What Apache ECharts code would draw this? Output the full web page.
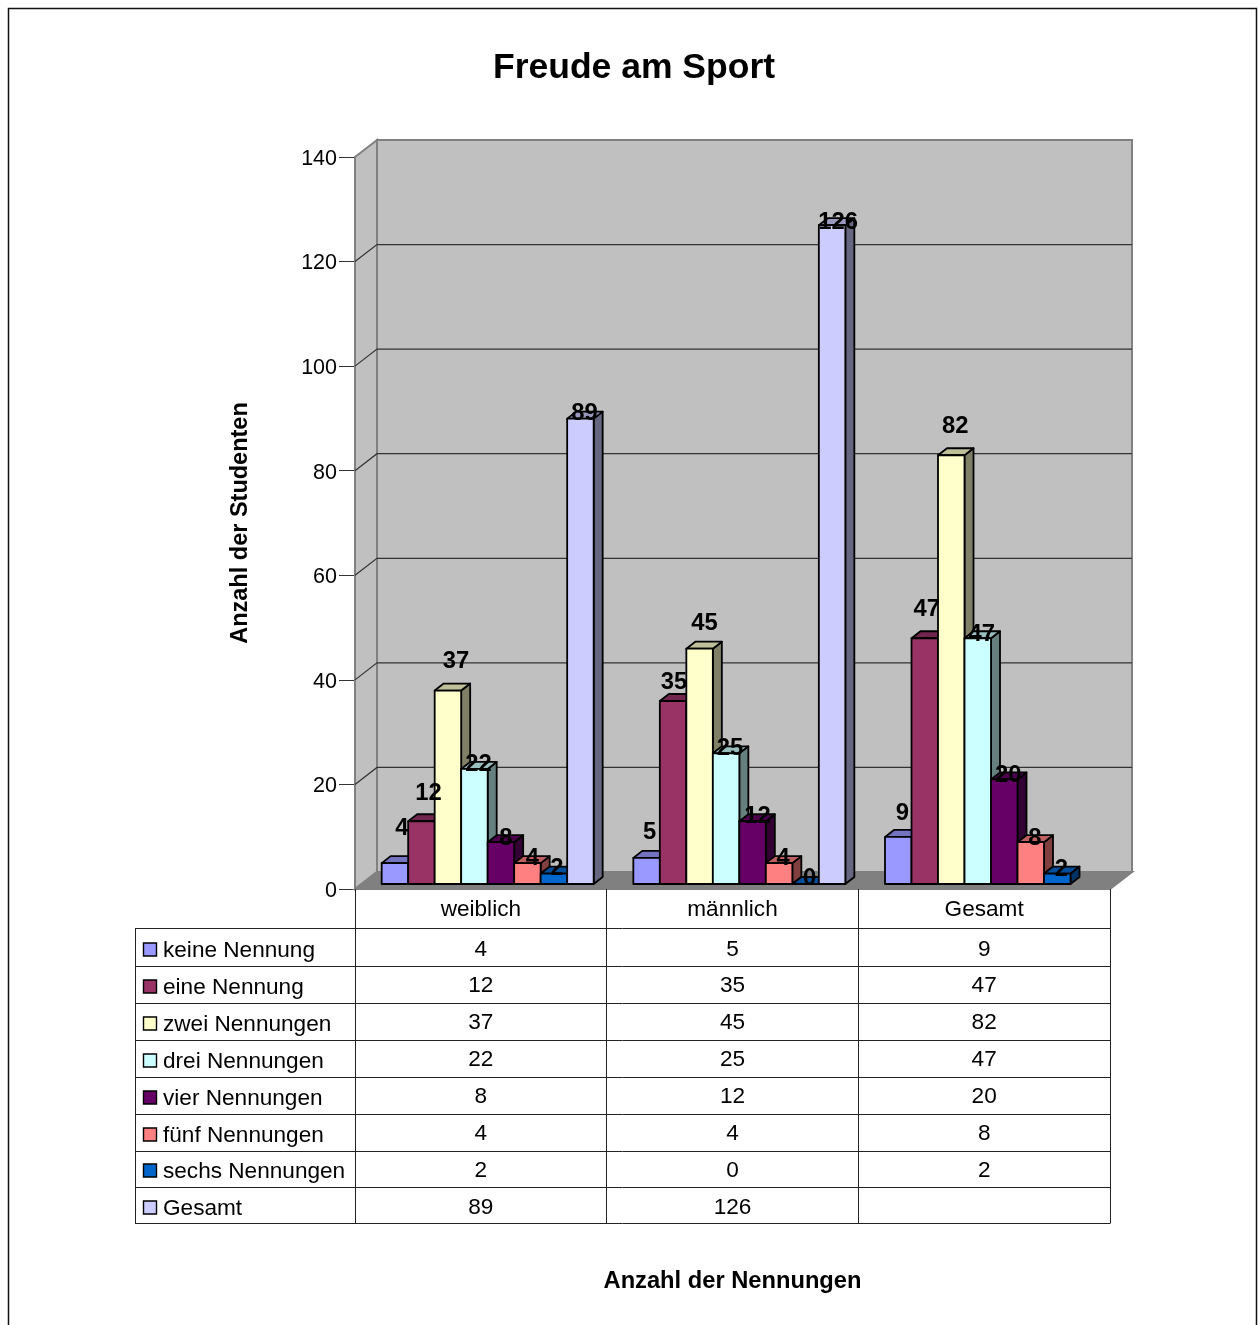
<!DOCTYPE html>
<html>
<head>
<meta charset="utf-8">
<title>Freude am Sport</title>
<style>
  html, body { margin: 0; padding: 0; background: #fff; }
  #chart { width: 1258px; height: 1325px; }
</style>
<script src="https://cdn.jsdelivr.net/npm/echarts@6/dist/echarts.min.js"></script>
</head>
<body>
<div id="chart"></div>
<script>
// Survey data: answers per gender group
const categories = ['weiblich', 'männlich', 'Gesamt'];
const seriesNames = ['keine Nennung', 'eine Nennung', 'zwei Nennungen', 'drei Nennungen',
  'vier Nennungen', 'fünf Nennungen', 'sechs Nennungen', 'Gesamt'];
const keineNennung = [4, 5, 9];
const eineNennung = [12, 35, 47];
const zweiNennungen = [37, 45, 82];
const dreiNennungen = [22, 25, 47];
const vierNennungen = [8, 12, 20];
const fuenfNennungen = [4, 4, 8];
const sechsNennungen = [2, 0, 2];
const gesamt = [89, 126, null];
const seriesValues = [keineNennung, eineNennung, zweiNennungen, dreiNennungen,
  vierNennungen, fuenfNennungen, sechsNennungen, gesamt];
const yTicks = [0, 20, 40, 60, 80, 100, 120, 140];

// Look
const colors = ['#9999FF', '#993366', '#FFFFCC', '#CCFFFF', '#660066', '#FF8080', '#0066CC', '#CCCCFF'];
const FONT = '"Liberation Sans", Arial, sans-serif';
const TEXT = '#000';
const FS = 22.6;

// Layout of the plot box and of the pseudo-3D projection
const GRID = { left: 355, right: 1110, top: 157, bottom: 889 };
const WALL = { dx: 22, dy: -17 };        // front edge -> back wall
const BAR_SHIFT = { dx: 6.84, dy: -5 };  // front edge -> front face of the bars
const BAR_DEPTH = { dx: 9, dy: -7 };
const BAR_SHARE = 26.5 / 251.67;         // one bar as a share of the category band

// Value label placement per series and group, relative to the top centre of the bar
const labelShift = [
  [[7, -35], [3, -25], [4, -24]],
  [[7, -28], [1, -19], [2, -29]],
  [[8, -29], [5, -25], [4, -29]],
  [[4, -5], [4, -5], [4, -4]],
  [[5, -4], [5, -5], [4, -4]],
  [[5, -5], [4, -5], [4, -4]],
  [[3, -5], [4, -6], [4, -4]],
  [[4, -5], [6, -3], [0, 0]]
];

// Table rules and row centres
const rowLines = [928, 966, 1003, 1040, 1077, 1114, 1151, 1187, 1223];
const valueRowY = [950, 986, 1023, 1060, 1097, 1134, 1171, 1208];
const keyRowY = [951, 988, 1025, 1062, 1099, 1136, 1172, 1209];
const TABLE_LEFT = 135;

function shade(hex, k) {
  const n = parseInt(hex.slice(1), 16);
  const c = [n >> 16, (n >> 8) & 255, n & 255].map(v => Math.round(v * k));
  return 'rgb(' + c.join(',') + ')';
}

// Back wall, side wall, floor and the gridlines running across them
function renderWalls(params, api) {
  const o = api.coord([0, 0]);
  const t = api.coord([0, 140]);
  const band = api.size([1, 0])[0];
  const x0 = o[0] - band / 2;
  const x1 = x0 + band * categories.length;
  const y0 = o[1], yT = t[1];
  const edge = { stroke: '#808080', lineWidth: 2 };
  const kids = [
    { type: 'polygon', shape: { points: [[x0 + WALL.dx, yT + WALL.dy], [x1 + WALL.dx, yT + WALL.dy], [x1 + WALL.dx, y0 + WALL.dy], [x0 + WALL.dx, y0 + WALL.dy]] },
      style: Object.assign({ fill: '#C0C0C0' }, edge) },
    { type: 'polygon', shape: { points: [[x0, yT], [x0 + WALL.dx, yT + WALL.dy], [x0 + WALL.dx, y0 + WALL.dy], [x0, y0]] },
      style: Object.assign({ fill: '#C0C0C0' }, edge) },
    { type: 'polygon', shape: { points: [[x0, y0], [x0 + WALL.dx, y0 + WALL.dy], [x1 + WALL.dx, y0 + WALL.dy], [x1, y0]] },
      style: Object.assign({ fill: '#808080' }, edge) }
  ];
  yTicks.slice(1, -1).forEach(v => {
    const y = api.coord([0, v])[1];
    kids.push({ type: 'polyline', shape: { points: [[x0, y], [x0 + WALL.dx, y + WALL.dy], [x1 + WALL.dx, y + WALL.dy]] },
      style: { stroke: '#333', lineWidth: 1.2, fill: null } });
  });
  return { type: 'group', children: kids };
}

function renderBar(si) {
  return function (params, api) {
    const value = api.value(1);
    if (value === null || isNaN(value)) return null;
    const cat = api.value(0);
    const band = api.size([1, 0])[0];
    const w = band * BAR_SHARE;
    const top = api.coord([cat, value]);
    const base = api.coord([cat, 0]);
    const x = top[0] + BAR_SHIFT.dx + (si - seriesNames.length / 2) * w;
    const yT = top[1] + BAR_SHIFT.dy;
    const yB = base[1] + BAR_SHIFT.dy;
    const d = BAR_DEPTH;
    const line = { stroke: '#000', lineWidth: 1.8, lineJoin: 'round' };
    return {
      type: 'group',
      children: [
        { type: 'polygon', shape: { points: [[x + w, yT], [x + w + d.dx, yT + d.dy], [x + w + d.dx, yB + d.dy], [x + w, yB]] },
          style: Object.assign({ fill: shade(colors[si], 0.5) }, line) },
        { type: 'polygon', shape: { points: [[x, yT], [x + d.dx, yT + d.dy], [x + w + d.dx, yT + d.dy], [x + w, yT]] },
          style: Object.assign({ fill: shade(colors[si], 0.75) }, line) },
        { type: 'rect', shape: { x: x, y: yT, width: w, height: yB - yT },
          style: Object.assign({ fill: colors[si] }, line) }
      ]
    };
  };
}

function renderValueLabel(si) {
  return function (params, api) {
    const value = api.value(1);
    if (value === null || isNaN(value)) return null;
    const cat = api.value(0);
    const w = api.size([1, 0])[0] * BAR_SHARE;
    const top = api.coord([cat, value]);
    const s = labelShift[si][cat];
    return {
      type: 'text',
      x: top[0] + BAR_SHIFT.dx + (si - seriesNames.length / 2 + 0.5) * w + s[0],
      y: top[1] + BAR_SHIFT.dy + s[1],
      style: { text: String(value), fill: TEXT, font: 'bold 23.8px ' + FONT, textAlign: 'center', textVerticalAlign: 'middle' }
    };
  };
}

const series = [{
  type: 'custom', name: 'Wände', coordinateSystem: 'cartesian2d', silent: true, z: 1,
  renderItem: renderWalls, data: [[0, 0]], clip: false
}];
seriesNames.forEach((name, si) => {
  const data = categories.map((c, ci) => [ci, seriesValues[si][ci]]);
  series.push({ type: 'custom', name: name, renderItem: renderBar(si), data: data, encode: { x: 0, y: 1 }, z: 3 + si, clip: false, silent: true });
  series.push({ type: 'custom', name: name + ' Werte', renderItem: renderValueLabel(si), data: data, encode: { x: 0, y: 1 }, z: 20, clip: false, silent: true });
});

// Data table below the chart, filled from the same arrays as the bars
const graphic = [];
const ruleStyle = { stroke: '#222', lineWidth: 1 };
const addLine = (x1, y1, x2, y2, stroke) => graphic.push({
  type: 'line', silent: true, z: 30,
  shape: { x1: x1, y1: y1, x2: x2, y2: y2 },
  style: Object.assign({}, ruleStyle, stroke ? { stroke: stroke } : null)
});
const band = (GRID.right - GRID.left) / categories.length;
const lastRow = rowLines[rowLines.length - 1];

graphic.push({ type: 'rect', silent: true, z: 0, shape: { x: 8.5, y: 8.5, width: 1248, height: 1330 },
  style: { fill: '#fff', stroke: '#111', lineWidth: 1.5 } });

rowLines.forEach(y => addLine(TABLE_LEFT, y + 0.5, GRID.right, y + 0.5));
addLine(TABLE_LEFT + 0.5, rowLines[0], TABLE_LEFT + 0.5, lastRow);
for (let i = 0; i <= categories.length; i++) {
  const x = Math.floor(GRID.left + i * band) + 0.5;
  addLine(x, GRID.bottom, x, lastRow + 0.5);
}
seriesNames.forEach((name, si) => {
  graphic.push({ type: 'rect', silent: true, z: 30,
    shape: { x: 143.5, y: keyRowY[si] - 8, width: 13, height: 13 },
    style: { fill: colors[si], stroke: '#000', lineWidth: 1.4 } });
  graphic.push({ type: 'text', silent: true, z: 30, x: 163, y: keyRowY[si],
    style: { text: name, fill: TEXT, font: FS + 'px ' + FONT, textAlign: 'left', textVerticalAlign: 'middle' } });
  categories.forEach((c, ci) => {
    const v = seriesValues[si][ci];
    if (v === null) return;
    graphic.push({ type: 'text', silent: true, z: 30, x: GRID.left + (ci + 0.5) * band, y: valueRowY[si],
      style: { text: String(v), fill: TEXT, font: FS + 'px ' + FONT, textAlign: 'center', textVerticalAlign: 'middle' } });
  });
});

const chart = echarts.init(document.getElementById('chart'), null, { width: 1258, height: 1325 });
chart.setOption({
  animation: false,
  backgroundColor: '#fff',
  title: {
    text: 'Freude am Sport', left: 629, top: 45, textAlign: 'center',
    textStyle: { fontFamily: FONT, fontSize: 35.5, fontWeight: 'bold', color: TEXT }
  },
  grid: { left: GRID.left, top: GRID.top, width: GRID.right - GRID.left, height: GRID.bottom - GRID.top, containLabel: false },
  xAxis: {
    type: 'category', data: categories, boundaryGap: true,
    axisLine: { show: true, onZero: false, lineStyle: { color: '#222', width: 1 } },
    axisTick: { show: false },
    axisLabel: { fontFamily: FONT, fontSize: FS, color: TEXT, margin: 9 },
    name: 'Anzahl der Nennungen', nameLocation: 'middle', nameGap: 380,
    nameTextStyle: { fontFamily: FONT, fontSize: 23.7, fontWeight: 'bold', color: TEXT }
  },
  yAxis: {
    type: 'value', min: 0, max: 140, interval: 20,
    axisLine: { show: true, onZero: false, lineStyle: { color: '#111', width: 1.5 } },
    axisTick: { show: true, length: 16, lineStyle: { color: '#333', width: 1 } },
    axisLabel: {
      color: TEXT, margin: 18, formatter: '{v|{value}}',
      rich: { v: { fontFamily: FONT, fontSize: 21.5, color: TEXT, padding: [4, 0, 0, 0] } }
    },
    splitLine: { show: false },
    name: 'Anzahl der Studenten', nameLocation: 'middle', nameGap: 102, nameRotate: 90,
    nameTextStyle: { fontFamily: FONT, fontSize: 23.5, fontWeight: 'bold', color: TEXT }
  },
  graphic: graphic,
  series: series
});
</script>
</body>
</html>
